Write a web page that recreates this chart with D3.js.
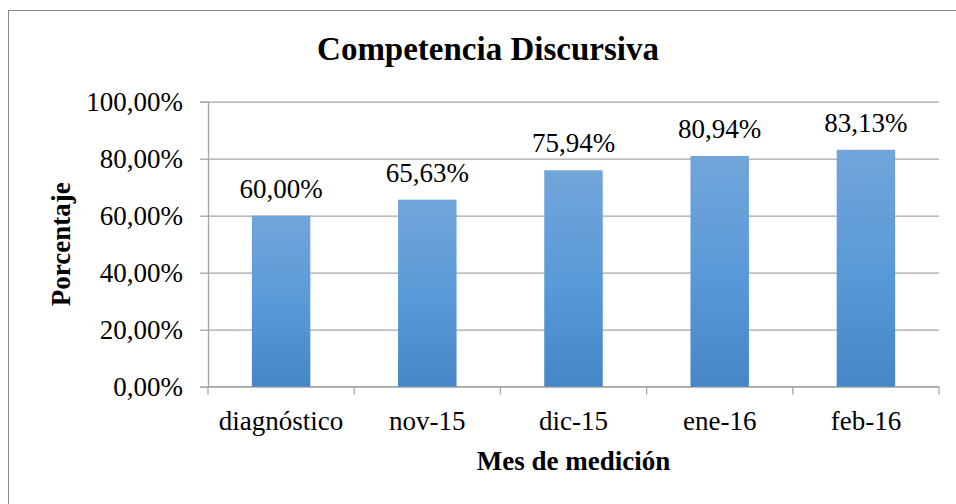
<!DOCTYPE html>
<html>
<head>
<meta charset="utf-8">
<script src="https://cdn.jsdelivr.net/npm/d3@7"></script>
<style>
  body { margin: 0; background: #fff; }
  text { font-family: "Liberation Serif", "Times New Roman", serif; fill: #000; }
</style>
</head>
<body>
<div id="chart"></div>
<script>
// chart data
const categories = ['diagnóstico', 'nov-15', 'dic-15', 'ene-16', 'feb-16'];
const values = [0.6000, 0.6563, 0.7594, 0.8094, 0.8313];
const yTicks = [0, 0.2, 0.4, 0.6, 0.8, 1.0];

const width = 956, height = 504;
const margin = { top: 101.7, right: 17, bottom: 117.3, left: 208 };
const innerW = width - margin.left - margin.right;
const innerH = height - margin.top - margin.bottom;

// Spanish style number format: 60,00%
const locale = d3.formatLocale({ decimal: ',', thousands: '.', grouping: [3], currency: ['', '€'] });
const pct = locale.format('.2%');

const svg = d3.select('#chart').append('svg')
  .attr('width', width)
  .attr('height', height);

// outer chart frame (runs past the right and bottom edge of the picture)
svg.append('rect')
  .attr('x', 8.5).attr('y', 10.5)
  .attr('width', 970).attr('height', 520)
  .attr('fill', 'none')
  .attr('stroke', '#8c8c8c')
  .attr('stroke-width', 1);

const defs = svg.append('defs');
const grad = defs.append('linearGradient')
  .attr('id', 'barGrad')
  .attr('x1', 0).attr('y1', 0).attr('x2', 0).attr('y2', 1);
grad.append('stop').attr('offset', '0%').attr('stop-color', '#72a5da');
grad.append('stop').attr('offset', '50%').attr('stop-color', '#5a9ad8');
grad.append('stop').attr('offset', '100%').attr('stop-color', '#4586c6');

const g = svg.append('g')
  .attr('transform', `translate(${margin.left},${margin.top})`);

const x = d3.scaleBand()
  .domain(categories)
  .range([0, innerW])
  .paddingInner(0.6)
  .paddingOuter(0.3);

const y = d3.scaleLinear()
  .domain([0, 1])
  .range([innerH, 0]);

// horizontal gridlines
g.append('g').attr('class', 'grid')
  .selectAll('line')
  .data(yTicks)
  .join('line')
  .attr('x1', 0).attr('x2', innerW)
  .attr('y1', d => Math.round(y(d)) + 0.5)
  .attr('y2', d => Math.round(y(d)) + 0.5)
  .attr('stroke', '#a6a6a6')
  .attr('stroke-width', 1.3);

// y axis
const yAxis = d3.axisLeft(y)
  .tickValues(yTicks)
  .tickFormat(pct)
  .tickSize(8)
  .tickPadding(17);

const yAxisG = g.append('g').call(yAxis);
yAxisG.select('.domain').attr('stroke', '#a6a6a6').attr('stroke-width', 1.3);
yAxisG.selectAll('.tick line').attr('stroke', '#a6a6a6').attr('stroke-width', 1.3);
yAxisG.selectAll('.tick text')
  .attr('font-size', 27)
  .attr('font-family', '"Liberation Serif", serif')
  .attr('dy', '0.33em');

// x axis line and category boundary ticks
const step = x.step();
const bounds = d3.range(categories.length + 1)
  .map(i => i < categories.length ? x(categories[i]) + x.bandwidth() / 2 - step / 2 : innerW);

g.append('line')
  .attr('x1', 0).attr('x2', innerW)
  .attr('y1', innerH).attr('y2', innerH)
  .attr('stroke', '#a6a6a6').attr('stroke-width', 1.3);

g.selectAll('.xtick')
  .data(bounds)
  .join('line')
  .attr('class', 'xtick')
  .attr('x1', d => d).attr('x2', d => d)
  .attr('y1', innerH).attr('y2', innerH + 8)
  .attr('stroke', '#a6a6a6').attr('stroke-width', 1.3);

// category labels
const xAxis = d3.axisBottom(x).tickSize(0);
const xAxisG = g.append('g')
  .attr('transform', `translate(0,${innerH})`)
  .call(xAxis);
xAxisG.select('.domain').remove();
xAxisG.selectAll('.tick text')
  .attr('font-size', 27)
  .attr('font-family', '"Liberation Serif", serif')
  .attr('y', 43)
  .attr('dy', 0);

// bars
g.selectAll('.bar')
  .data(values)
  .join('rect')
  .attr('class', 'bar')
  .attr('x', (d, i) => x(categories[i]))
  .attr('y', d => y(d))
  .attr('width', x.bandwidth())
  .attr('height', d => innerH - y(d))
  .attr('fill', 'url(#barGrad)');

// value labels
g.selectAll('.val')
  .data(values)
  .join('text')
  .attr('class', 'val')
  .attr('x', (d, i) => x(categories[i]) + x.bandwidth() / 2)
  .attr('y', d => y(d) - 18)
  .attr('text-anchor', 'middle')
  .attr('font-size', 27)
  .text(d => pct(d));

// title
svg.append('text')
  .attr('x', 488)
  .attr('y', 60)
  .attr('text-anchor', 'middle')
  .attr('font-size', 33)
  .attr('font-weight', 'bold')
  .text('Competencia Discursiva');

// axis titles
g.append('text')
  .attr('x', innerW / 2)
  .attr('y', innerH + 83)
  .attr('text-anchor', 'middle')
  .attr('font-size', 27)
  .attr('font-weight', 'bold')
  .text('Mes de medición');

g.append('text')
  .attr('transform', `translate(${70 - margin.left},${innerH / 2}) rotate(-90)`)
  .attr('text-anchor', 'middle')
  .attr('font-size', 27)
  .attr('font-weight', 'bold')
  .text('Porcentaje');
</script>
</body>
</html>
